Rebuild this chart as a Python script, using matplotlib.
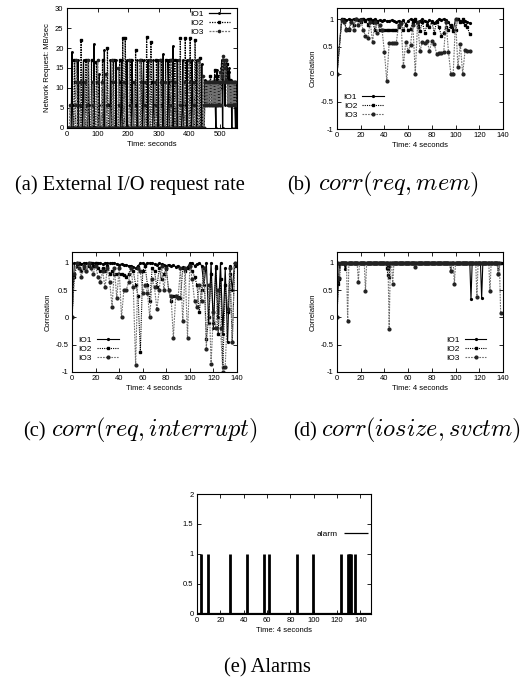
import numpy as np
import matplotlib
matplotlib.use("Agg")
import matplotlib.pyplot as plt
from matplotlib.ticker import FuncFormatter

plt.rcParams['font.family'] = ['Liberation Sans', 'DejaVu Sans']
plt.rcParams['mathtext.fontset'] = 'cm'
plt.rcParams['axes.unicode_minus'] = False

# ---------------- (a) external I/O request rate, 2 s samples ----------------
# spikes: (start second, values on consecutive samples), zero elsewhere
a_io1_spikes = [(16, [19, 5.7]), (36, [17]), (52, [11.5, 17]), (70, [17, 5.7]), (88, [21]),
                (104, [13.5, 5.7]), (122, [19.5]), (142, [17, 11.5]), (160, [17]), (176, [5.7, 17]),
                (196, [17]), (212, [17, 11.5]), (230, [17]), (248, [11.5, 17]), (264, [17]),
                (282, [17, 5.7]), (298, [17]), (314, [18.5]), (330, [17, 11.5]), (346, [20.5]),
                (360, [17]), (376, [5.7, 17]), (392, [17]), (408, [17, 11.5]), (424, [17]), (440, [16])]
a_io2_spikes = [(24, [17, 11.5]), (46, [22]), (62, [17, 5.7]), (80, [17]), (96, [16.5, 11.5]),
                (116, [17]), (132, [20, 5.7]), (152, [17]), (170, [11.5, 17]), (182, [22.5]),
                (190, [22.5, 11.5]), (208, [17]), (224, [19.5, 5.7]), (242, [17]), (260, [22.7]),
                (274, [21.5, 11.5]), (292, [17]), (308, [17, 5.7]), (322, [17]), (336, [17, 11.5]),
                (352, [17]), (370, [22.5]), (386, [22.5, 5.7]), (402, [22.5]), (418, [22, 11.5]), (434, [17.5])]
a_io3_spikes = [(10, [5.7]), (28, [5.7, 17, 11.5]), (42, [11.5, 5.7]), (58, [11.5]), (66, [5.7, 17]),
                (84, [11.5, 5.7]), (100, [17, 11.5]), (114, [11.5]), (128, [13.5, 5.7]), (148, [17, 11.5]),
                (168, [15, 5.7]), (186, [11.5]), (204, [17, 5.7]), (220, [11.5]), (238, [17, 11.5]),
                (254, [11.5, 5.7]), (270, [17]), (288, [11.5, 5.7]), (304, [17, 11.5]), (320, [11.5]),
                (338, [5.7, 17]), (354, [11.5]), (366, [17, 5.7]), (384, [11.5]), (398, [17, 11.5]),
                (414, [11.5, 5.7]), (428, [17]), (444, [13, 5.7])]
# busy period from 450 s on
a_io1_tail = [12, 11.5, 5.7, 11.5, 5.7, 11.5, 9, 5.7, 11.5, 9,
              11.5, 5.7, 11.5, 11.5, 5.7, 11.5, 13, 5.7, 0, 11.5,
              14.5, 5.7, 11.5, 5.7, 11.5, 5.7, 11.5, 15, 17, 0,
              16, 17, 12, 5.7, 15, 17, 16, 11.5, 5.7, 14,
              15, 11.5, 5.7, 12, 0, 11.5, 5.7, 11.5, 11.5, 5.7,
              0, 11.5, 0]
a_io2_tail = [11.5, 8, 11.5, 5.7, 11.5, 10, 11.5, 5.7, 11.5, 13,
              11.5, 5.7, 11.5, 9, 11.5, 5.7, 14.5, 11.5, 5.7, 11.5,
              11.5, 5.7, 13, 11.5, 5.7, 11.5, 10, 11.5, 16, 17,
              14, 16, 17, 15, 17, 12, 16, 14, 11.5, 5.7,
              11.5, 12, 5.7, 11.5, 10, 11.5, 5.7, 11.5, 8, 11.5,
              5.7, 11.5, 0]
a_io3_tail = [5.7, 11.5, 5.7, 11.5, 5.7, 11.5, 5.7, 11.5, 5.7, 11.5,
              5.7, 11.5, 5.7, 11.5, 5.7, 11.5, 5.7, 11.5, 5.7, 11.5,
              5.7, 11.5, 5.7, 11.5, 5.7, 14, 5.7, 11.5, 13, 17,
              18, 16, 11.5, 15, 17, 12, 11.5, 5.7, 11.5, 5.7,
              11.5, 5.7, 11.5, 5.7, 11.5, 5.7, 11.5, 5.7, 11.5, 5.7,
              11.5, 5.7, 5.7]
a_tail_start = 450
a_time = np.arange(0, 556, 2)

# ---------------- (b) corr(req, mem) ----------------
b_x = [0] + list(range(4, 113, 2))
b_io1 = [0, 1, 1, 0.98, 1, 0.99, 1, 1, 0.99, 1,
         1, 0.99, 1, 1, 0.98, 1, 0.97, 0.98, 0.97, 0.99,
         0.96, 0.97, 0.98, 0.96, 0.95, 0.97, 0.93, 0.98, 0.9, 0.97,
         1, 0.98, 0.96, 0.9, 0.97, 1, 0.97, 0.95, 0.98, 0.96,
         0.92, 0.97, 1, 0.99, 1, 0.98, 0.95, 0.85, 0.8, 1,
         1, 0.97, 0.95, 0.96, 0.94, 0.93]
b_io2 = [0, 1, 0.95, 0.82, 0.8, 0.95, 0.9, 1, 0.98, 0.95,
         1, 0.97, 0.9, 1, 0.95, 0.8, 0.95, 0.8, 0.8, 0.8,
         0.8, 0.8, 0.8, 0.8, 0.8, 0.85, 0.95, 0.8, 0.9, 0.8,
         0.82, 0.95, 1, 0.85, 0.78, 0.95, 0.75, 0.9, 0.85, 0.95,
         0.75, 0.95, 0.85, 0.7, 0.75, 0.85, 0.8, 0.9, 0.78, 0.8,
         1, 0.95, 1, 0.9, 0.85, 0.72]
b_io3 = [0, 0.98, 0.95, 0.8, 0.82, 0.95, 0.8, 1, 0.9, 0.98,
         0.8, 0.7, 0.65, 0.95, 0.58, 0.95, 0.75, 0.9, 0.8, 0.4,
         -0.13, 0.57, 0.57, 0.57, 0.57, 0.9, 0.92, 0.15, 0.58, 0.42,
         0.53, 0.9, 0.0, 0.95, 0.42, 0.58, 0.57, 0.6, 0.42, 0.6,
         0.55, 0.37, 0.38, 0.38, 0.4, 0.95, 0.4, 0.0, 0.0, 1.0,
         0.12, 0.55, 0.0, 0.43, 0.42, 0.42]

# ---------------- (c) corr(req, interrupt) ----------------
c_x = list(range(0, 139, 2))
c_io1 = [0, 1, 1, 1, 0.98, 1, 1, 0.97, 1, 1,
         0.99, 1, 1, 0.98, 1, 1, 0.99, 1, 1, 0.98,
         0.97, 0.98, 0.97, 0.96, 0.95, 0.95, 0.93, 0.9, 0.95, 0.99,
         1, 0.97, 1, 1, 1, 0.98, 0.97, 0.99, 0.98, 0.96,
         0.95, 0.97, 0.95, 0.96, 0.93, 0.95, 0.9, 0.92, 0.88, 0.92,
         1, 1, 0.95, 0.98, 1, 0.95, 0.6, 1, -0.1, 1,
         -0.2, 0.95, 0.0, 1, -0.3, 0.9, -0.45, 0.95, 0.5, 1]
c_io2 = [0, 0.75, 0.95, 1, 0.85, 0.9, 0.85, 0.95, 1, 0.95,
         1, 0.9, 0.85, 0.9, 0.85, 0.95, 0.8, 0.85, 0.8, 0.8,
         0.8, 0.8, 0.78, 0.75, 0.8, 0.9, 0.85, 0.6, 0.4, -0.63,
         0.85, 0.95, 0.6, 0.3, 0.9, 0.85, 0.55, 0.9, 0.7, 0.8,
         0.88, 0.5, 0.3, 0.4, 0.4, 0.38, 0.35, 0.9, 0.85, 0.9,
         0.95, 0.85, 0.75, 0.6, 0.1, 0.5, 0.9, -0.4, 0.0, 0.8,
         -0.1, 0.9, -0.3, 0.7, -0.9, 0.6, 0.1, 0.8, -0.45, 0.95]
c_io3 = [0, 0.8, 1, 0.9, 0.75, 0.95, 0.85, 1, 0.9, 0.8,
         0.95, 0.75, 0.65, 0.85, 0.55, 0.9, 0.65, 0.2, 0.9, 0.35,
         0.9, 0.0, 0.5, 0.5, 0.65, 0.9, 0.55, -0.87, 0.9, 0.85,
         0.45, 0.6, 0.45, 0.0, 0.7, 0.55, 0.15, 0.5, 0.95, 0.5,
         0.9, 0.5, 0.4, -0.37, 0.4, 0.35, 0.9, -0.07, 0.9, -0.37,
         0.95, 0.7, 0.3, 0.2, 0.6, 0.3, 0.9, -0.58, 0.6, -0.85,
         0.1, -0.2, 0.5, -0.2, -1.0, -0.9, 0.15, 0.9, -0.45, 1]

# ---------------- (d) corr(iosize, svctm): value 1 except at the dips ----------------
d_x = np.arange(0, 139)
d_io1_dip_x = [0, 1, 2, 7, 43, 44, 113, 122]
d_io1_dip_y = [0.0, 0.65, 0.95, 0.88, 0.88, 0.95, 0.33, 0.35]
d_io2_dip_x = [0, 1, 2, 42, 43, 44, 96, 136]
d_io2_dip_y = [0.0, 0.62, 0.7, 0.9, 0.78, 0.75, 0.85, 0.8]
d_io3_dip_x = [0, 2, 9, 18, 24, 44, 47, 66, 96, 99, 118, 129, 136, 138]
d_io3_dip_y = [0.0, 0.72, -0.07, 0.65, 0.48, -0.22, 0.62, 0.92, 0.85, 0.62, 0.37, 0.48, 0.8, 0.08]

# ---------------- (e) alarms ----------------
e_alarm_x = [3, 9, 28, 43, 57, 62, 86, 99, 123, 129, 130, 131, 132, 135]
e_alarm_y = [1, 1, 1, 1, 1, 1, 1, 1, 1, 1, 1, 1, 1, 1]

labels = ['IO1', 'IO2', 'IO3']
styles = [dict(color='black', ls='-', lw=0.8, marker='.', ms=2.6),
          dict(color='black', ls=(0, (1, 1)), lw=0.8, marker='s', ms=1.8),
          dict(color='#707070', ls=(0, (1.5, 1)), lw=0.8, marker='o', ms=2.0,
               mfc='#222222', mec='#222222')]


def spiky(spikes, tail):
    y = np.zeros(len(a_time))
    for t, vals in spikes:
        i = t // 2
        y[i:i + len(vals)] = vals
    j = a_tail_start // 2
    y[j:j + len(tail)] = tail
    return y


def with_dips(dx, dy):
    y = np.ones(len(d_x))
    y[dx] = dy
    return y


fmt = FuncFormatter(lambda v, p: '%g' % v)


def frame(ax, xlim, ylim, xticks, yticks):
    ax.set_xlim(*xlim)
    ax.set_ylim(*ylim)
    ax.set_xticks(xticks)
    ax.set_yticks(yticks)
    ax.xaxis.set_major_formatter(fmt)
    ax.yaxis.set_major_formatter(fmt)
    ax.tick_params(direction='in', length=3, width=0.6, top=True, right=True,
                   labelsize=5.5, pad=2.5)
    for s in ax.spines.values():
        s.set_linewidth(0.8)


def key(ax, loc, anchor, fs=6):
    ax.legend(loc=loc, bbox_to_anchor=anchor, frameon=False, markerfirst=False,
              fontsize=fs, handlelength=2.6, handletextpad=0.6, labelspacing=0.15,
              borderpad=0, borderaxespad=0, numpoints=1)


W, H = 520, 687
fig = plt.figure(figsize=(W / 100, H / 100), dpi=100)


def box(l, t, r, b):
    return fig.add_axes([l / W, 1 - b / H, (r - l) / W, (b - t) / H])


corr_ticks = [-1, -0.5, 0, 0.5, 1]
time4_ticks = [0, 20, 40, 60, 80, 100, 120, 140]

# (a)
ax = box(67, 8, 237, 128)
for lab, sty, sp, tl in zip(labels, styles, [a_io1_spikes, a_io2_spikes, a_io3_spikes],
                            [a_io1_tail, a_io2_tail, a_io3_tail]):
    s = dict(sty)
    s['ms'] = sty['ms'] * 0.8
    s['lw'] = 0.9
    ax.plot(a_time, spiky(sp, tl), label=lab, **s)
frame(ax, (0, 555), (0, 30), [0, 100, 200, 300, 400, 500], [0, 5, 10, 15, 20, 25, 30])
ax.set_xlabel('Time: seconds', fontsize=5.5, labelpad=2)
ax.set_ylabel('Network Request: MB/sec', fontsize=5.5, labelpad=3)
key(ax, 'upper right', (0.96, 0.98))

# (b)
ax = box(337, 8, 503, 129)
for lab, sty, y in zip(labels, styles, [b_io1, b_io2, b_io3]):
    ax.plot(b_x, y, label=lab, **sty)
frame(ax, (0, 140), (-1, 1.2), time4_ticks, corr_ticks)
ax.set_xlabel('Time: 4 seconds', fontsize=5.5, labelpad=2)
ax.set_ylabel('Correlation', fontsize=5.5, labelpad=3)
key(ax, 'lower left', (0.04, 0.08))

# (c)
ax = box(72, 252, 237, 372)
for lab, sty, y in zip(labels, styles, [c_io1, c_io2, c_io3]):
    ax.plot(c_x, y, label=lab, **sty)
frame(ax, (0, 140), (-1, 1.2), time4_ticks, corr_ticks)
ax.set_xlabel('Time: 4 seconds', fontsize=5.5, labelpad=2)
ax.set_ylabel('Correlation', fontsize=5.5, labelpad=3)
key(ax, 'lower left', (0.04, 0.08))

# (d)
ax = box(337, 252, 503, 372)
for lab, sty, dx, dy in zip(labels, styles, [d_io1_dip_x, d_io2_dip_x, d_io3_dip_x],
                            [d_io1_dip_y, d_io2_dip_y, d_io3_dip_y]):
    ax.plot(d_x, with_dips(dx, dy), label=lab, **sty)
frame(ax, (0, 140), (-1, 1.2), time4_ticks, corr_ticks)
ax.set_xlabel('Time: 4 seconds', fontsize=5.5, labelpad=2)
ax.set_ylabel('Correlation', fontsize=5.5, labelpad=3)
key(ax, 'lower right', (0.9, 0.08))

# (e)
ax = box(197, 494, 371, 614)
ax.vlines(e_alarm_x, 0, e_alarm_y, color='black', lw=2.0, label='alarm')
ax.axhline(0, color='black', lw=1.6)
frame(ax, (0, 149), (0, 2), time4_ticks, [0, 0.5, 1, 1.5, 2])
ax.set_xlabel('Time: 4 seconds', fontsize=5.5, labelpad=2)
ax.legend(loc='center right', bbox_to_anchor=(0.98, 0.67), frameon=False, markerfirst=False,
          fontsize=6, handlelength=2.8, handletextpad=0.8, borderpad=0, borderaxespad=0)
ax.get_legend().legend_handles[0].set_linewidth(0.9)

# captions: Times label, LaTeX-style math drawn a bit wider
serif = ['Liberation Serif', 'DejaVu Serif']
lab = dict(family=serif, fontsize=14.8, va='baseline')
mth = dict(family=serif, fontsize=17.5, va='baseline', ha='left')
fig.text(15 / W, 1 - 190 / H, '(a) External I/O request rate', ha='left', **lab)
fig.text(287 / W, 1 - 190 / H, '(b)', ha='left', **lab)
fig.text(318 / W, 1 - 190 / H, '$corr(req, mem)$', **mth)
fig.text(23 / W, 1 - 436 / H, '(c)', ha='left', **lab)
fig.text(51 / W, 1 - 436 / H, '$corr(req, interrupt)$', **mth)
fig.text(293 / W, 1 - 436 / H, '(d)', ha='left', **lab)
fig.text(321 / W, 1 - 436 / H, '$corr(iosize, svctm)$', **mth)
fig.text(267 / W, 1 - 672 / H, '(e) Alarms', ha='center', **lab)

fig.savefig('out.png', dpi=100)
